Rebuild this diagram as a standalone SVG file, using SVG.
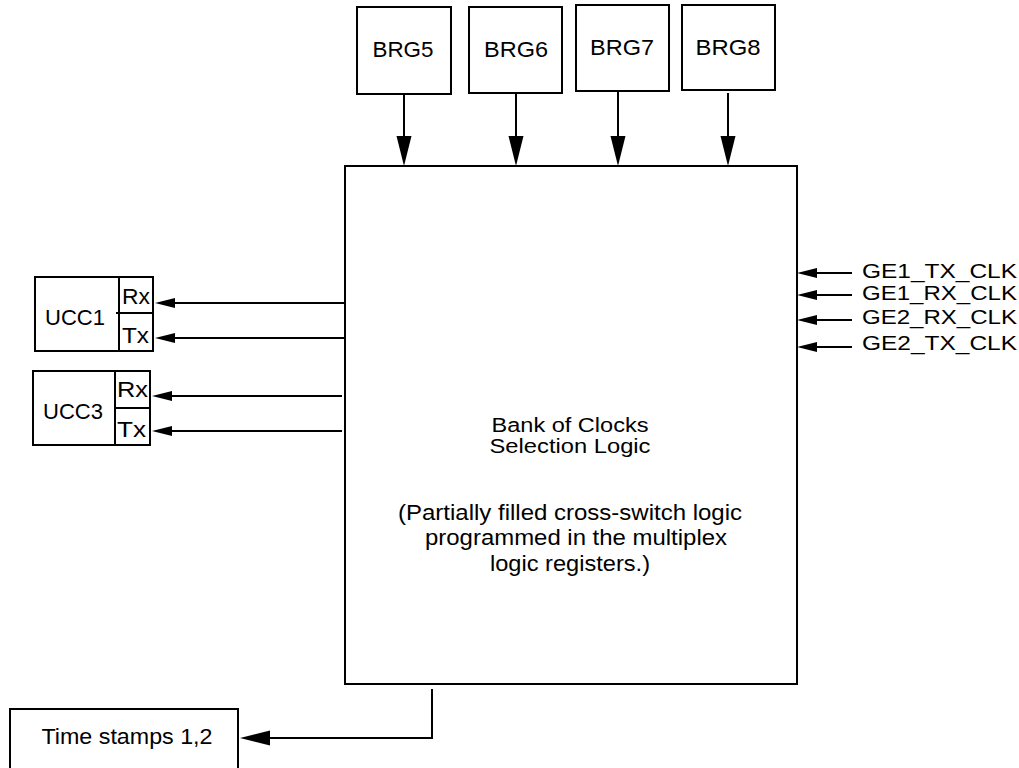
<svg xmlns="http://www.w3.org/2000/svg" width="1019" height="768" viewBox="0 0 1019 768">
<style>
.box{fill:#fff;stroke:#000;stroke-width:2}
.ln{fill:none;stroke:#000;stroke-width:2}
.t{font-family:"Liberation Sans",Arial,sans-serif;font-size:22px;fill:#000}
.s{font-size:20px}
.m{text-anchor:middle}
</style>
<defs>
<marker id="big" markerUnits="userSpaceOnUse" markerWidth="30" markerHeight="15" refX="0" refY="7.5" orient="auto" overflow="visible">
<path d="M0,0 L30,7.5 L0,15 Z" fill="#000"/>
</marker>
<marker id="sm" markerUnits="userSpaceOnUse" markerWidth="20" markerHeight="10" refX="0" refY="5" orient="auto" overflow="visible">
<path d="M0,0 L20,5 L0,10 Z" fill="#000"/>
</marker>
</defs>
<g id="main">
<rect class="box" x="345" y="166" width="452" height="518"/>
<text class="t s m" x="570" y="432" textLength="157" lengthAdjust="spacingAndGlyphs">Bank of Clocks</text>
<text class="t s m" x="570" y="453" textLength="161" lengthAdjust="spacingAndGlyphs">Selection Logic</text>
<text class="t m" x="570" y="520" textLength="344" lengthAdjust="spacingAndGlyphs">(Partially filled cross-switch logic</text>
<text class="t m" x="576" y="545" textLength="302" lengthAdjust="spacingAndGlyphs">programmed in the multiplex</text>
<text class="t m" x="570" y="571" textLength="160" lengthAdjust="spacingAndGlyphs">logic registers.)</text>
</g>
<g id="brg5"><rect class="box" x="357" y="7" width="94" height="87"/><text class="t m" x="403" y="57" textLength="61" lengthAdjust="spacingAndGlyphs">BRG5</text></g>
<g id="brg6"><rect class="box" x="469" y="7" width="93" height="86"/><text class="t m" x="516" y="57" textLength="64" lengthAdjust="spacingAndGlyphs">BRG6</text></g>
<g id="brg7"><rect class="box" x="576" y="5" width="93" height="86"/><text class="t m" x="622" y="55" textLength="64" lengthAdjust="spacingAndGlyphs">BRG7</text></g>
<g id="brg8"><rect class="box" x="682" y="5" width="93" height="85"/><text class="t m" x="728" y="55" textLength="65" lengthAdjust="spacingAndGlyphs">BRG8</text></g>
<g id="ucc1">
<rect class="box" x="35" y="277" width="118" height="74"/>
<line class="ln" x1="119" y1="277" x2="119" y2="351"/>
<line class="ln" x1="116" y1="313" x2="153" y2="313"/>
<text class="t m" x="75" y="325" textLength="60" lengthAdjust="spacingAndGlyphs">UCC1</text>
<text class="t" x="122" y="304" textLength="28" lengthAdjust="spacingAndGlyphs">Rx</text>
<text class="t" x="122" y="343" textLength="27" lengthAdjust="spacingAndGlyphs">Tx</text>
</g>
<g id="ucc3">
<rect class="box" x="33" y="371" width="117" height="74"/>
<line class="ln" x1="115" y1="371" x2="115" y2="445"/>
<line class="ln" x1="115" y1="408" x2="150" y2="408"/>
<text class="t m" x="73" y="419" textLength="60" lengthAdjust="spacingAndGlyphs">UCC3</text>
<text class="t" x="117" y="397" textLength="31" lengthAdjust="spacingAndGlyphs">Rx</text>
<text class="t" x="117" y="437" textLength="29" lengthAdjust="spacingAndGlyphs">Tx</text>
</g>
<g id="clk-labels">
<text class="t s" x="862" y="278" textLength="155" lengthAdjust="spacingAndGlyphs">GE1_TX_CLK</text>
<text class="t s" x="862" y="300" textLength="155" lengthAdjust="spacingAndGlyphs">GE1_RX_CLK</text>
<text class="t s" x="862" y="324" textLength="155" lengthAdjust="spacingAndGlyphs">GE2_RX_CLK</text>
<text class="t s" x="862" y="350" textLength="155" lengthAdjust="spacingAndGlyphs">GE2_TX_CLK</text>
</g>
<g id="timestamps">
<rect class="box" x="10" y="709" width="228" height="80"/>
<text class="t m" x="127" y="744" textLength="171" lengthAdjust="spacingAndGlyphs">Time stamps 1,2</text>
</g>
<g id="connectors">
<line class="ln" x1="404" y1="94" x2="404" y2="136" marker-end="url(#big)"/>
<line class="ln" x1="516" y1="93" x2="516" y2="136" marker-end="url(#big)"/>
<line class="ln" x1="618" y1="91" x2="618" y2="136" marker-end="url(#big)"/>
<line class="ln" x1="728" y1="93" x2="728" y2="136" marker-end="url(#big)"/>
<line class="ln" x1="345" y1="303" x2="175" y2="303" marker-end="url(#sm)"/>
<line class="ln" x1="345" y1="338" x2="175" y2="338" marker-end="url(#sm)"/>
<line class="ln" x1="342" y1="396" x2="172" y2="396" marker-end="url(#sm)"/>
<line class="ln" x1="342" y1="431" x2="172" y2="431" marker-end="url(#sm)"/>
<line class="ln" x1="852" y1="273" x2="817" y2="273" marker-end="url(#sm)"/>
<line class="ln" x1="852" y1="295" x2="817" y2="295" marker-end="url(#sm)"/>
<line class="ln" x1="852" y1="320" x2="817" y2="320" marker-end="url(#sm)"/>
<line class="ln" x1="852" y1="347" x2="817" y2="347" marker-end="url(#sm)"/>
<path class="ln" d="M432,689 V738 H270" marker-end="url(#big)"/>
</g>
</svg>
